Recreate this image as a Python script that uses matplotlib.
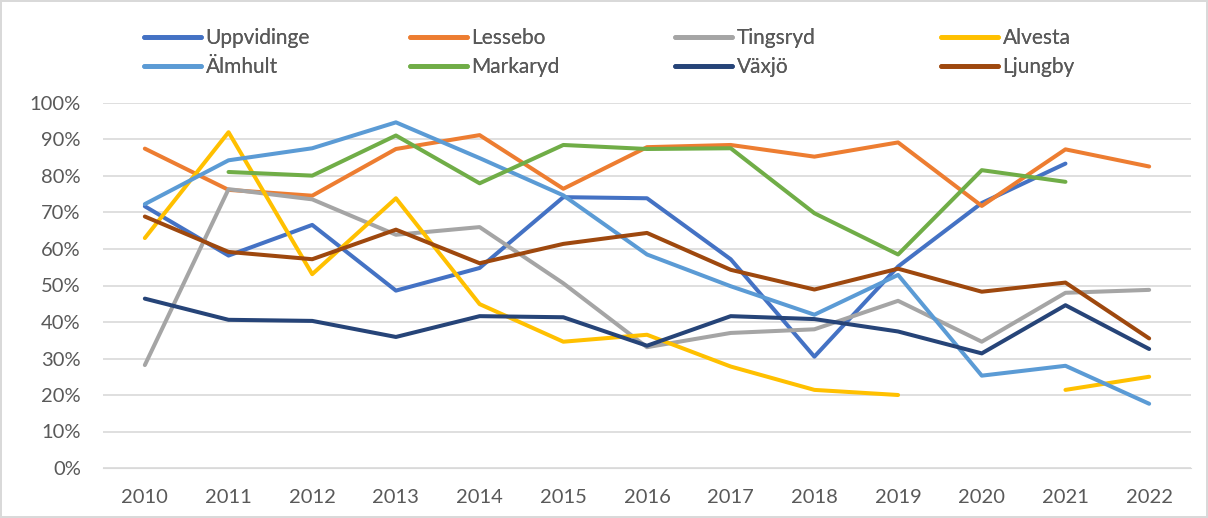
import numpy as np
import matplotlib
matplotlib.use("Agg")
import matplotlib.pyplot as plt

plt.rcParams['font.family'] = ['Lato', 'DejaVu Sans']

years = [str(y) for y in range(2010, 2023)]
nan = np.nan

uppvidinge = [71.7, 58.2, 66.6, 48.6, 54.8, 74.2, 73.9, 57.2, 30.5, 55.2, 72.6, 83.4, nan]
lessebo    = [87.5, 76.2, 74.6, 87.4, 91.2, 76.5, 87.9, 88.5, 85.3, 89.2, 71.8, 87.3, 82.6]
tingsryd   = [28.2, 76.4, 73.6, 63.9, 66.0, 50.6, 33.1, 37.0, 38.0, 45.8, 34.6, 48.0, 48.8]
alvesta    = [63.0, 92.0, 53.1, 73.9, 44.9, 34.6, 36.5, 27.8, 21.4, 20.0, nan, 21.4, 25.0]
almhult    = [72.3, 84.3, 87.6, 94.7, 84.9, 74.7, 58.5, 49.8, 42.0, 52.9, 25.3, 28.0, 17.6]
markaryd   = [nan, 81.1, 80.1, 91.1, 78.0, 88.5, 87.4, 87.6, 69.8, 58.5, 81.6, 78.4, nan]
vaxjo      = [46.4, 40.6, 40.3, 35.9, 41.6, 41.3, 33.5, 41.6, 40.8, 37.4, 31.4, 44.6, 32.6]
ljungby    = [68.9, 59.2, 57.2, 65.3, 56.1, 61.4, 64.4, 54.3, 48.9, 54.6, 48.3, 50.8, 35.5]

names = ['Uppvidinge', 'Lessebo', 'Tingsryd', 'Alvesta',
         'Älmhult', 'Markaryd', 'Växjö', 'Ljungby']
series = [uppvidinge, lessebo, tingsryd, alvesta, almhult, markaryd, vaxjo, ljungby]
colors = ['#4472C4', '#ED7D31', '#A5A5A5', '#FFC000',
          '#5B9BD5', '#70AD47', '#264478', '#9E480E']

fig = plt.figure(figsize=(12.08, 5.18), dpi=100)
fig.patch.set_edgecolor('#d9d9d9')
fig.patch.set_linewidth(1.5)
ax = fig.add_axes([103 / 1208, 50 / 518, 1088 / 1208, 365 / 518])

x = np.arange(len(years))
lines = []
for name, vals, c in zip(names, series, colors):
    ln, = ax.plot(x, np.array(vals) / 100, color=c, lw=2.9, label=name,
                  solid_capstyle='round', solid_joinstyle='round')
    lines.append(ln)

ax.set_xlim(-0.5, len(years) - 0.5)
ax.set_ylim(0, 1.0)
ax.set_xticks(x)
ax.set_xticklabels(years)
ax.set_yticks(np.arange(0, 1.01, 0.1))
ax.set_yticklabels([f'{int(round(v * 100))}%' for v in np.arange(0, 1.01, 0.1)])
ax.yaxis.grid(True, color='#d9d9d9', lw=1.2)
ax.set_axisbelow(True)
for s in ['top', 'right', 'left']:
    ax.spines[s].set_visible(False)
ax.spines['bottom'].set_color('#d9d9d9')
ax.tick_params(length=0, labelsize=14.5, colors='#595959')
ax.tick_params(axis='x', pad=15)
ax.tick_params(axis='y', pad=16)

# legend: four columns, two rows
col_x = [143, 409, 674, 940]
for i, cx in enumerate(col_x):
    leg = fig.legend([lines[i], lines[i + 4]], [names[i], names[i + 4]],
                     loc='upper left', bbox_to_anchor=(cx / 1208 - 0.006, 1 - 20 / 518),
                     frameon=False, fontsize=15, handlelength=2.75,
                     handletextpad=0.2, labelspacing=0.42, borderaxespad=0,
                     labelcolor='#595959')
    for h in leg.get_lines():
        h.set_linewidth(3.4)
    fig.add_artist(leg)

fig.savefig('out.png', dpi=100)
